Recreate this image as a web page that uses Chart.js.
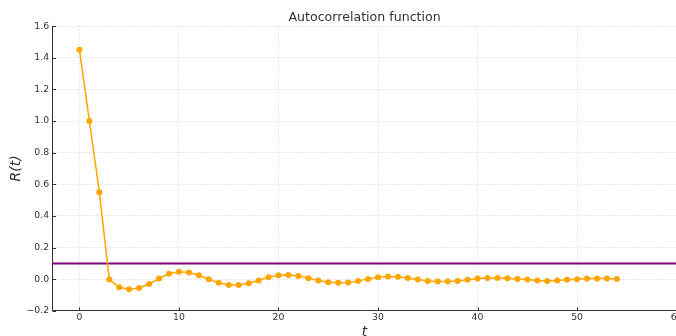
<!DOCTYPE html>
<html>
<head>
<meta charset="utf-8">
<script src="https://cdn.jsdelivr.net/npm/chart.js@4/dist/chart.umd.min.js"></script>
<style>
  html, body { margin: 0; padding: 0; background: #fff; overflow: hidden; }
  #clip { width: 676px; height: 336px; overflow: hidden; }
  #wrap { width: 684px; height: 336px; }
</style>
</head>
<body>
<div id="clip"><div id="wrap"><canvas id="chart"></canvas></div></div>
<script>
// lag t = 0..54
const lags = [
  0, 1, 2, 3, 4, 5, 6, 7, 8, 9,
  10, 11, 12, 13, 14, 15, 16, 17, 18, 19,
  20, 21, 22, 23, 24, 25, 26, 27, 28, 29,
  30, 31, 32, 33, 34, 35, 36, 37, 38, 39,
  40, 41, 42, 43, 44, 45, 46, 47, 48, 49,
  50, 51, 52, 53, 54
];
const acf = [
  1.45, 1.0, 0.55, -0.002, -0.051, -0.063, -0.055, -0.030, 0.004, 0.034,
  0.047, 0.042, 0.025, 0.0, -0.023, -0.036, -0.036, -0.025, -0.008, 0.013,
  0.025, 0.027, 0.021, 0.006, -0.008, -0.019, -0.023, -0.021, -0.011, 0.002,
  0.013, 0.017, 0.015, 0.008, -0.002, -0.011, -0.015, -0.015, -0.011, -0.004,
  0.004, 0.008, 0.008, 0.006, 0.002, -0.002, -0.008, -0.011, -0.008, -0.004,
  0.0, 0.004, 0.004, 0.004, 0.002
];
const THRESHOLD = 0.1;
const X_MIN = -2.7, X_MAX = 60;
const Y_MIN = -0.2, Y_MAX = 1.6;
const xTicks = [0, 10, 20, 30, 40, 50, 60];
const yTicks = [-0.2, 0.0, 0.2, 0.4, 0.6, 0.8, 1.0, 1.2, 1.4, 1.6];

const FONT = '"DejaVu Sans", sans-serif';
const TEXT = '#333';

const acfPoints = lags.map((t, i) => ({ x: t, y: acf[i] }));
const thresholdPoints = [{ x: X_MIN, y: THRESHOLD }, { x: X_MAX, y: THRESHOLD }];

function fmt(v) {
  return v.toFixed(1).replace('-', '\u2212');
}

// matplotlib-style inward tick marks
const inwardTicks = {
  id: 'inwardTicks',
  afterDraw(chart) {
    const { ctx, chartArea, scales } = chart;
    ctx.save();
    ctx.strokeStyle = TEXT;
    ctx.lineWidth = 1;
    ctx.beginPath();
    xTicks.forEach(v => {
      const px = Math.round(scales.x.getPixelForValue(v)) + 0.5;
      ctx.moveTo(px, chartArea.bottom);
      ctx.lineTo(px, chartArea.bottom - 3.5);
    });
    yTicks.forEach(v => {
      const py = Math.round(scales.y.getPixelForValue(v)) + 0.5;
      ctx.moveTo(chartArea.left, py);
      ctx.lineTo(chartArea.left + 3.5, py);
    });
    ctx.stroke();
    ctx.restore();
  }
};

new Chart(document.getElementById('chart'), {
  type: 'scatter',
  data: {
    datasets: [
      {
        label: 'R(t)',
        data: acfPoints,
        showLine: true,
        borderColor: '#FFA500',
        backgroundColor: '#FFA500',
        borderWidth: 1.5,
        pointRadius: 3,
        pointBorderWidth: 0,
        order: 1,
      },
      {
        label: 'threshold',
        data: thresholdPoints,
        showLine: true,
        borderColor: '#800080',
        borderWidth: 2,
        pointRadius: 0,
        order: 2,
      },
    ],
  },
  options: {
    responsive: true,
    maintainAspectRatio: false,
    animation: false,
    layout: { padding: 0 },
    plugins: {
      legend: { display: false },
      tooltip: { enabled: false },
      title: {
        display: true,
        text: 'Autocorrelation function',
        color: TEXT,
        fullSize: false,
        font: { family: FONT, size: 12.6, weight: 'normal' },
        padding: { top: 10, bottom: 1 },
      },
    },
    scales: {
      x: {
        type: 'linear',
        min: X_MIN,
        max: X_MAX,
        afterBuildTicks: scale => { scale.ticks = xTicks.map(v => ({ value: v })); },
        grid: {
          color: '#dcdcdc',
          lineWidth: 0.8,
          drawTicks: false,
        },
        border: { color: TEXT, width: 1, dash: [1.5, 1.5] },
        ticks: {
          color: TEXT,
          font: { family: FONT, size: 9.3 },
          padding: 1.5,
          maxRotation: 0,
          callback: v => String(v),
        },
        title: {
          display: true,
          text: 't',
          color: TEXT,
          font: { family: FONT, size: 14, style: 'italic', lineHeight: 1 },
          padding: { top: 0, bottom: -3 },
        },
      },
      y: {
        type: 'linear',
        min: Y_MIN,
        max: Y_MAX,
        afterBuildTicks: scale => { scale.ticks = yTicks.map(v => ({ value: v })); },
        grid: {
          color: '#dcdcdc',
          lineWidth: 0.8,
          drawTicks: false,
        },
        border: { color: TEXT, width: 1, dash: [1.5, 1.5] },
        ticks: {
          color: TEXT,
          font: { family: FONT, size: 9.3 },
          padding: 3.5,
          callback: v => fmt(v),
        },
        title: {
          display: true,
          text: 'R(t)',
          color: TEXT,
          font: { family: FONT, size: 14, style: 'italic', lineHeight: 1 },
          padding: { top: 9, bottom: 0 },
        },
      },
    },
  },
  plugins: [inwardTicks],
});
</script>
</body>
</html>
